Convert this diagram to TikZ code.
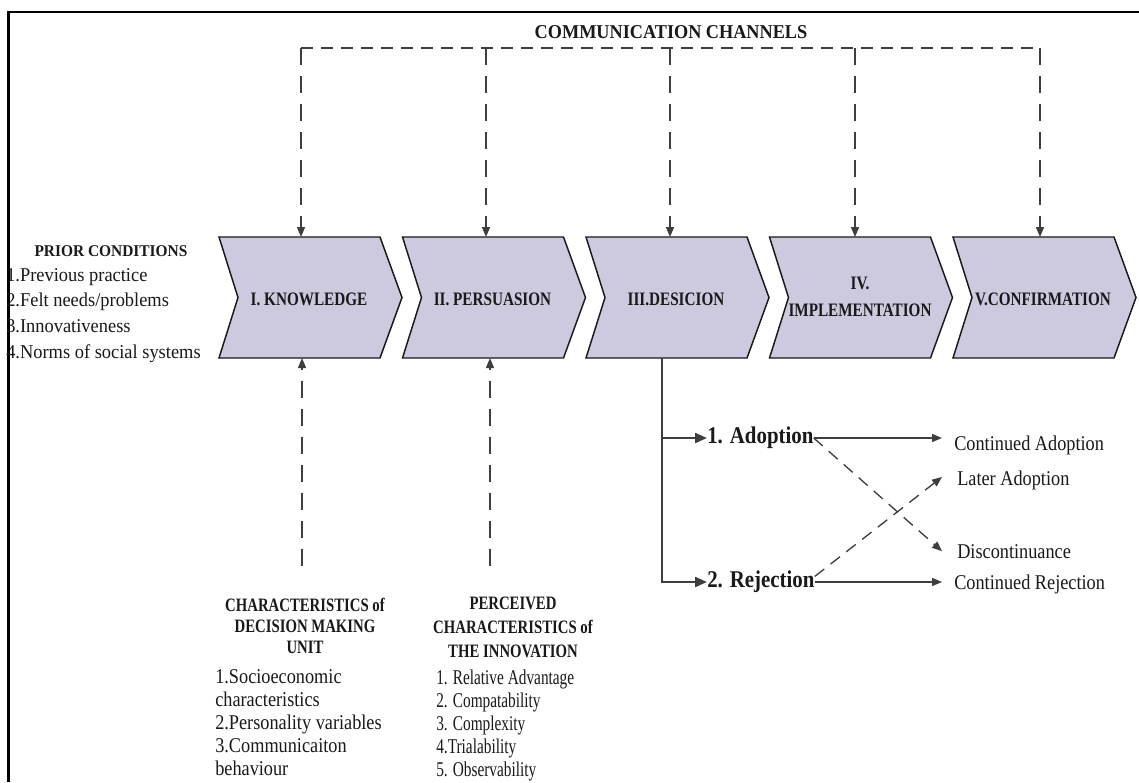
\documentclass[tikz,border=0pt]{standalone}
\usepackage{fontspec}
\setmainfont{Liberation Serif}
\newfontfamily\titlefont{Liberation Serif}[FakeStretch=0.93]
\newfontfamily\chevfont{Liberation Serif}[FakeStretch=0.80]
\newfontfamily\plainfont{Liberation Serif}[FakeStretch=0.87]
\newfontfamily\priorfont{Liberation Serif}[FakeStretch=0.94]
\newfontfamily\headfont{Liberation Serif}[FakeStretch=0.78]
\newfontfamily\narrowfont{Liberation Serif}[FakeStretch=0.73]
\usetikzlibrary{arrows.meta,calc}

\definecolor{chevfill}{RGB}{205,201,223}
\definecolor{ink}{RGB}{25,25,25}
\definecolor{linegray}{RGB}{62,62,62}

\tikzset{
  frameline/.style={draw=black, line width=1.8pt},
  chevron/.style={fill=chevfill, draw=ink, line width=1.1pt, line join=miter},
  chevlabel/.style={inner sep=0pt, text=ink, align=center,
    font=\chevfont\bfseries\fontsize{14.25pt}{20pt}\selectfont},
  titletxt/.style={inner sep=0pt, text=ink, font=\titlefont\bfseries\fontsize{14.7pt}{18pt}\selectfont},
  priorhead/.style={inner sep=0pt, text=ink, font=\priorfont\bfseries\fontsize{12.3pt}{16pt}\selectfont},
  prioritem/.style={inner sep=0pt, text=ink, font=\priorfont\fontsize{14.7pt}{18pt}\selectfont},
  headtxt/.style={inner sep=0pt, text=ink, font=\headfont\bfseries\fontsize{14.2pt}{16pt}\selectfont},
  itemA/.style={inner sep=0pt, text=ink, font=\plainfont\fontsize{15.75pt}{18pt}\selectfont},
  itemB/.style={inner sep=0pt, text=ink, font=\narrowfont\fontsize{15.75pt}{18pt}\selectfont},
  choice/.style={inner sep=0pt, text=ink, font=\plainfont\bfseries\fontsize{18pt}{20pt}\selectfont},
  outcome/.style={inner sep=0pt, text=ink, font=\plainfont\fontsize{15.75pt}{18pt}\selectfont},
  dashline/.style={draw=linegray, line width=1pt, dash pattern=on 9pt off 6pt},
  vdashline/.style={draw=linegray, line width=1pt, dash pattern=on 13pt off 8pt},
  solidline/.style={draw=linegray, line width=1.1pt},
  trunk/.style={draw=linegray, line width=1.6pt},
  smalltip/.style={-{Triangle[length=7.5pt,width=6pt]}},
  bigtip/.style={-{Triangle[length=9pt,width=7.5pt]}},
}

\begin{document}
\begin{tikzpicture}[x=0.75pt, y=-0.75pt]
\useasboundingbox (0,0) rectangle (1139,782);
\fill[white] (0,0) rectangle (1139,782);

% outer frame
\draw[frameline] (8.5,782) -- (8.5,12) -- (1139,12);

% the five stages
\foreach \x in {219, 402.5, 586, 769.5, 953}{
  \draw[chevron] (\x,237) -- ++(161,0) -- ++(22,60.5) -- ++(-22,60.5)
    -- ++(-161,0) -- ++(19,-60.5) -- cycle;
}
\node[chevlabel] (knowledge) at (309,299) {I. KNOWLEDGE};
\node[chevlabel] (persuasion) at (492.5,299) {II. PERSUASION};
\node[chevlabel] (decision) at (676,299) {III.DESICION};
\node[chevlabel] (implementation) at (860,297) {IV.\\IMPLEMENTATION};
\node[chevlabel] (confirmation) at (1043,299) {V.CONFIRMATION};

% attachment points on the stage outlines
\coordinate (k-n) at (301,237);
\coordinate (p-n) at (486,237);
\coordinate (d-n) at (670,237);
\coordinate (m-n) at (855,237);
\coordinate (c-n) at (1040,237);
\coordinate (k-s) at (302,358);
\coordinate (p-s) at (490,358);
\coordinate (d-s) at (662,358);

% communication channels
\node[titletxt, anchor=base] (channels) at (671,38) {COMMUNICATION CHANNELS};
\coordinate (bus-k) at (301,48);
\coordinate (bus-p) at (486,48);
\coordinate (bus-d) at (670,48);
\coordinate (bus-m) at (855,48);
\coordinate (bus-c) at (1040,48);
\draw[dashline] (bus-k) -- (bus-c);
\foreach \n in {k,p,d,m,c}{
  \draw[vdashline, smalltip] (bus-\n) -- (\n-n);
}

% prior conditions
\node[priorhead, anchor=base] (prior) at (111,256) {PRIOR CONDITIONS};
\foreach \t [count=\i] in {1.Previous practice, 2.Felt needs/problems,
    3.Innovativeness, 4.Norms of social systems}{
  \node[prioritem, anchor=base west] (prior-\i) at (6,{281+25.7*(\i-1)}) {\t};
}

% characteristics of the decision making unit
\node[headtxt, anchor=base] (cdm-1) at (305,611) {CHARACTERISTICS of};
\node[headtxt, anchor=base] (cdm-2) at (305,632) {DECISION MAKING};
\node[headtxt, anchor=base] (cdm-3) at (305,653) {UNIT};
\foreach \t [count=\i] in {1.Socioeconomic, characteristics,
    2.Personality variables, 3.Communicaiton, behaviour}{
  \node[itemA, anchor=base west] (cdm-item-\i) at (215,{683+23.2*(\i-1)}) {\t};
}

% perceived characteristics of the innovation
\node[headtxt, anchor=base] (pci-1) at (513,609) {PERCEIVED};
\node[headtxt, anchor=base] (pci-2) at (513,633) {CHARACTERISTICS of};
\node[headtxt, anchor=base] (pci-3) at (513,657) {THE INNOVATION};
\foreach \t [count=\i] in {1. Relative Advantage, 2. Compatability,
    3. Complexity, 4.Trialability, 5. Observability}{
  \node[itemB, anchor=base west] (pci-item-\i) at (436,{684+23*(\i-1)}) {\t};
}

\coordinate (k-src) at (302,566);
\coordinate (p-src) at (490,566);
\draw[vdashline, smalltip] (k-src) -- (k-s);
\draw[vdashline, smalltip] (p-src) -- (p-s);

% decision outcomes
\node[choice, anchor=west] (adopt) at (707,438) {1. Adoption};
\node[choice, anchor=west] (reject) at (707,582) {2. Rejection};
\draw[trunk, bigtip] (d-s) |- (adopt.west);
\draw[trunk, bigtip] (d-s) |- (reject.west);

\node[outcome, anchor=base west] (ca) at (954,450) {Continued Adoption};
\node[outcome, anchor=base west] (later) at (957,485) {Later Adoption};
\node[outcome, anchor=base west] (disc) at (957,558) {Discontinuance};
\node[outcome, anchor=base west] (cr) at (954,589) {Continued Rejection};

\draw[solidline, smalltip, shorten >=9pt] (adopt.east) -- (adopt.east -| ca.west);
\draw[solidline, smalltip, shorten >=9pt] (reject.east) -- (reject.east -| cr.west);
\draw[dashline, smalltip] (adopt.east) -- ($(disc.west)+(-15,0)$);
\draw[dashline, smalltip] ($(reject.east)!0.5!(reject.north east)$) -- ($(later.west)+(-15,-3)$);
\end{tikzpicture}
\end{document}
